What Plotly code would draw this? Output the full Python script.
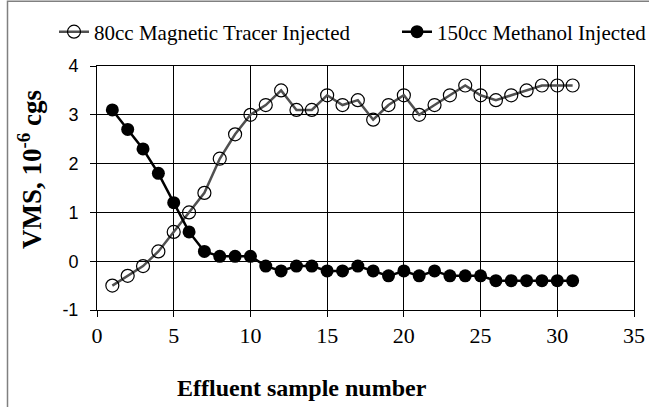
import plotly.graph_objects as go

sample = list(range(1, 32))
tracer_vms = [-0.5, -0.3, -0.1, 0.2, 0.6, 1.0, 1.4, 2.1, 2.6, 3.0,
              3.2, 3.5, 3.1, 3.1, 3.4, 3.2, 3.3, 2.9, 3.2, 3.4,
              3.0, 3.2, 3.4, 3.6, 3.4, 3.3, 3.4, 3.5, 3.6, 3.6, 3.6]
methanol_vms = [3.1, 2.7, 2.3, 1.8, 1.2, 0.6, 0.2, 0.1, 0.1, 0.1,
                -0.1, -0.2, -0.1, -0.1, -0.2, -0.2, -0.1, -0.2, -0.3, -0.2,
                -0.3, -0.2, -0.3, -0.3, -0.3, -0.4, -0.4, -0.4, -0.4, -0.4, -0.4]
series_names = ["80cc Magnetic Tracer Injected", "150cc Methanol Injected"]
x_ticks = [0, 5, 10, 15, 20, 25, 30, 35]
y_ticks = [-1, 0, 1, 2, 3, 4]
y_tick_text = ["-1", "0", "1", "2", "3", "4"]

SERIF = "Liberation Serif"
SANS = "Liberation Sans"

fig = go.Figure()
fig.add_trace(go.Scatter(
    x=sample, y=tracer_vms, name=series_names[0], mode="lines+markers",
    line=dict(color="#505050", width=2.5),
    marker=dict(symbol="circle-open", size=13, color="black", line=dict(width=1.2, color="black")),
    legend="legend",
))
fig.add_trace(go.Scatter(
    x=sample, y=methanol_vms, name=series_names[1], mode="lines+markers",
    line=dict(color="black", width=2.5),
    marker=dict(symbol="circle", size=13, color="black"),
    legend="legend2",
))

L, R, T, B = 97, 15, 66, 97
W, H = 649, 407
pw, ph = W - L - R, H - T - B

def px(xp):
    return (xp - L) / pw

def py(yp):
    return (H - B - yp) / ph

legend_common = dict(orientation="h", xanchor="left", yanchor="middle",
                     font=dict(family=SERIF, size=21, color="black"),
                     bgcolor="rgba(0,0,0,0)", borderwidth=0)

fig.update_layout(
    width=W, height=H,
    margin=dict(l=L, r=R, t=T, b=B, pad=0, autoexpand=False),
    paper_bgcolor="white", plot_bgcolor="white",
    showlegend=True,
    legend=dict(x=px(54), y=py(32), **legend_common),
    legend2=dict(x=px(397), y=py(32), **legend_common),
    xaxis=dict(range=[0, 35], tickvals=x_ticks, showgrid=True, gridcolor="black", gridwidth=1,
               showline=True, linecolor="black", linewidth=1, mirror=True,
               ticks="outside", ticklen=6, tickcolor="black",
               tickfont=dict(family=SERIF, size=22, color="black"),
               zeroline=False),
    yaxis=dict(range=[-1, 4], tickvals=y_ticks, ticktext=y_tick_text, showgrid=True,
               gridcolor="black", gridwidth=1,
               showline=True, linecolor="black", linewidth=1, mirror=True,
               ticks="outside", ticklen=6, tickcolor="black",
               ticklabelstandoff=8,
               tickfont=dict(family=SANS, size=18, color="black"),
               zeroline=False),
    annotations=[
        dict(text="<b>Effluent sample number</b>", xref="paper", yref="paper",
             x=px(302), y=py(388), xanchor="center", yanchor="middle", showarrow=False,
             font=dict(family=SERIF, size=24, color="black")),
        dict(text="<b>VMS, 10<sup>-6</sup> cgs</b>", xref="paper", yref="paper",
             x=px(30), y=py(170), xanchor="center", yanchor="middle", showarrow=False,
             textangle=-90, font=dict(family=SERIF, size=27, color="black")),
    ],
    shapes=[
        dict(type="rect", xref="paper", yref="paper",
             x0=px(7.5), x1=px(700), y0=py(460), y1=py(1.2),
             line=dict(color="#808080", width=1.5), fillcolor="rgba(0,0,0,0)", layer="below"),
    ],
)

fig.write_html("out.html",
               config={"displayModeBar": False},
               post_script="document.body.style.margin='0';document.body.style.overflow='hidden';")
